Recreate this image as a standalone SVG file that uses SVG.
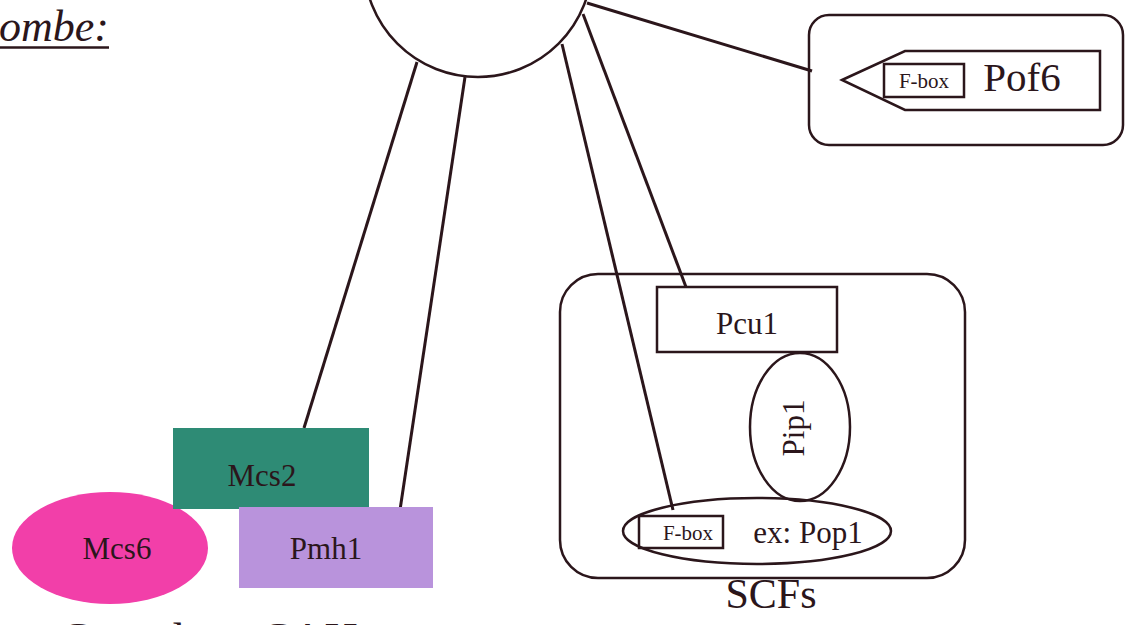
<svg xmlns="http://www.w3.org/2000/svg" width="1132" height="625" viewBox="0 0 1132 625">
<style>
.s{fill:none;stroke:#2b161b;stroke-width:2.5}
.w{fill:#fff;stroke:#2b161b;stroke-width:2.5}
.t{font-family:"Liberation Serif","Times New Roman",serif;fill:#2b161b}
.c{stroke:#2b161b;stroke-width:3;fill:none}
</style>
<rect width="1132" height="625" fill="#fff"/>
<g id="title">
<text class="t" x="109" y="41" font-size="44" font-style="italic" text-anchor="end">pombe:</text>
<line x1="0" y1="47.5" x2="109" y2="47.5" stroke="#2b161b" stroke-width="2.5"/>
</g>
<g id="connectors">
<line class="c" x1="417" y1="62" x2="304" y2="428" stroke-width="1.8"/>
<line class="c" x1="465" y1="77" x2="400" y2="510"/>
<line class="c" x1="562" y1="44" x2="673" y2="510"/>
<line class="c" x1="583" y1="14" x2="686" y2="287"/>
<line class="c" x1="587" y1="3" x2="812" y2="71"/>
</g>
<g id="hub">
<circle class="w" cx="478" cy="-37" r="114"/>
</g>
<g id="pof6">
<rect class="s" x="809" y="15" width="314" height="130" rx="20"/>
<polygon class="s" points="842,80 905,51 1100,51 1100,110 905,110"/>
<rect class="s" x="884" y="64" width="80" height="33" stroke-width="2"/>
<text class="t" x="924" y="88" font-size="21" text-anchor="middle">F-box</text>
<text class="t" x="1022" y="91" font-size="41" text-anchor="middle">Pof6</text>
</g>
<g id="mcs6">
<ellipse cx="110" cy="548" rx="98" ry="56" fill="#f23fa9"/>
<text class="t" x="117" y="559" font-size="31" text-anchor="middle">Mcs6</text>
</g>
<g id="mcs2">
<rect x="173" y="428" width="196" height="81" fill="#2e8b75"/>
<text class="t" x="262" y="486" font-size="31" text-anchor="middle">Mcs2</text>
</g>
<g id="pmh1">
<rect x="239" y="507" width="194" height="81" fill="#b993dc"/>
<text class="t" x="326" y="559" font-size="31" text-anchor="middle">Pmh1</text>
</g>
<g id="complexe">
<text class="t" x="60" y="655" font-size="46">Complexe CAH</text>
</g>
<g id="scf">
<rect class="s" x="560" y="274" width="405" height="304" rx="38"/>
<text class="t" x="771" y="608" font-size="42" text-anchor="middle">SCFs</text>
</g>
<g id="pcu1">
<rect class="s" x="657" y="287" width="180" height="65" stroke-width="2"/>
<text class="t" x="747" y="334" font-size="31" text-anchor="middle">Pcu1</text>
</g>
<g id="pip1">
<ellipse class="s" cx="800" cy="427" rx="50" ry="74" stroke-width="2"/>
<text class="t" font-size="31" text-anchor="middle" transform="translate(804,428) rotate(-90)">Pip1</text>
</g>
<g id="pop1">
<ellipse class="s" cx="757" cy="531" rx="134" ry="33" stroke-width="2"/>
<rect class="s" x="639" y="516" width="84" height="32" stroke-width="2"/>
<text class="t" x="688" y="540" font-size="21" text-anchor="middle">F-box</text>
<text class="t" x="808" y="543" font-size="31" text-anchor="middle">ex: Pop1</text>
</g>
</svg>
